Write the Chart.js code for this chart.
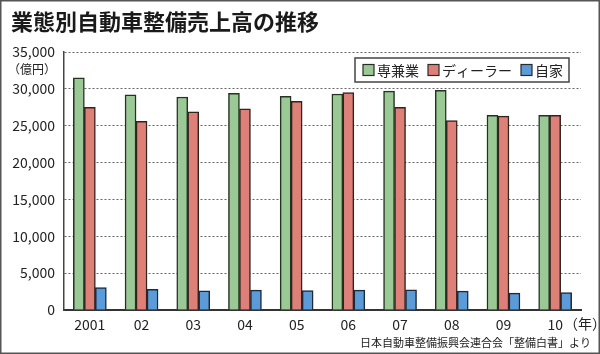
<!DOCTYPE html>
<html>
<head>
<meta charset="utf-8">
<script src="https://cdn.jsdelivr.net/npm/chart.js@4/dist/chart.umd.min.js"></script>
<style>
  html, body { margin: 0; padding: 0; background: #fff; }
  canvas { display: block; }
</style>
</head>
<body>
<canvas id="myChart" width="600" height="354"></canvas>
<script>
// data (億円)
const years = ['2001', '02', '03', '04', '05', '06', '07', '08', '09', '10'];
const senkengyo = [31500, 29200, 28900, 29400, 29000, 29300, 29700, 29800, 26400, 26400];
const dealer = [27500, 25600, 26900, 27300, 28300, 29500, 27500, 25700, 26300, 26400];
const jika = [3050, 2800, 2600, 2700, 2650, 2700, 2750, 2550, 2300, 2350];
const seriesNames = ['専兼業', 'ディーラー', '自家'];

const titleText = '業態別自動車整備売上高の推移';
const unitText = '（億円）';
const yearUnit = '（年）';
const sourceText = '日本自動車整備振興会連合会「整備白書」より';

const FONT = '"Noto Sans CJK JP", "Noto Sans", sans-serif';

// title, legend, unit labels and frame
const decor = {
    id: 'decor',
    afterDraw(chart) {
        const ctx = chart.ctx;
        const area = chart.chartArea;
        const x = chart.scales.x;
        const y = chart.scales.y;
        ctx.save();

        // outer frame
        ctx.strokeStyle = '#555';
        ctx.lineWidth = 1.5;
        ctx.strokeRect(0.75, 0.75, 598.5, 352.5);

        // title
        ctx.fillStyle = '#1a1a1a';
        ctx.font = 'bold 22px ' + FONT;
        ctx.textAlign = 'left';
        ctx.textBaseline = 'middle';
        ctx.fillText(titleText, 11, 22);

        // unit under 35,000
        ctx.fillStyle = '#222';
        ctx.font = '12px ' + FONT;
        ctx.textAlign = 'right';
        ctx.fillText(unitText, 56, y.getPixelForValue(35000) + 17);

        // (年) after last label
        ctx.font = '14px ' + FONT;
        ctx.textAlign = 'left';
        const lastX = x.getPixelForValue(years.length - 1);
        const lastW = ctx.measureText(years[years.length - 1]).width;
        ctx.fillText(yearUnit, lastX + lastW / 2 + 1, 324);

        // source
        ctx.font = '11px ' + FONT;
        ctx.textAlign = 'right';
        ctx.fillText(sourceText, 591, 343);

        // legend box
        ctx.font = '14px ' + FONT;
        const sw = 11, gap = 3, itemGap = 9, padL = 8, padR = 6;
        let total = padL + padR;
        chart.data.datasets.forEach((ds, i) => {
            total += sw + gap + ctx.measureText(ds.label).width;
            if (i < chart.data.datasets.length - 1) total += itemGap;
        });
        const boxRight = area.right - 12;
        const boxLeft = boxRight - total;
        const boxTop = 58, boxBottom = 82;
        ctx.fillStyle = '#fff';
        ctx.fillRect(boxLeft, boxTop, total, boxBottom - boxTop);
        ctx.strokeStyle = '#444';
        ctx.lineWidth = 1.5;
        ctx.strokeRect(boxLeft, boxTop, total, boxBottom - boxTop);
        let cx = boxLeft + padL;
        const cy = (boxTop + boxBottom) / 2;
        chart.data.datasets.forEach(ds => {
            ctx.fillStyle = ds.backgroundColor;
            ctx.fillRect(cx, cy - sw / 2, sw, sw);
            ctx.strokeStyle = '#2a2a2a';
            ctx.lineWidth = 1.2;
            ctx.strokeRect(cx, cy - sw / 2, sw, sw);
            cx += sw + gap;
            ctx.fillStyle = '#222';
            ctx.textAlign = 'left';
            ctx.textBaseline = 'middle';
            ctx.fillText(ds.label, cx, cy + 1);
            cx += ctx.measureText(ds.label).width + itemGap;
        });

        ctx.restore();
    }
};

const ctx = document.getElementById('myChart').getContext('2d');
const myChart = new Chart(ctx, {
    type: 'bar',
    data: {
        labels: years,
        datasets: [
            { label: seriesNames[0], data: senkengyo, backgroundColor: '#9bc995', borderColor: '#243224' },
            { label: seriesNames[1], data: dealer, backgroundColor: '#dc8078', borderColor: '#33231f' },
            { label: seriesNames[2], data: jika, backgroundColor: '#5b9bd8', borderColor: '#1d2a3a' }
        ]
    },
    options: {
        responsive: false,
        animation: false,
        devicePixelRatio: 1,
        layout: { padding: { top: 52, right: 19, left: 0, bottom: 0 } },
        datasets: {
            bar: { barThickness: 11, borderWidth: 1.5, borderSkipped: 'bottom' }
        },
        plugins: {
            legend: { display: false },
            title: { display: false },
            tooltip: { enabled: false }
        },
        scales: {
            x: {
                grid: { display: false, drawTicks: false },
                border: { display: true, color: '#333', width: 2 },
                ticks: { color: '#222', font: { family: FONT, size: 14 }, padding: 6, maxRotation: 0 },
                afterFit(scale) { scale.height = 44; }
            },
            y: {
                min: 0,
                max: 35000,
                grid: {
                    drawTicks: false,
                    lineWidth: 1,
                    color: c => (c.tick && c.tick.value === 0) ? 'rgba(0,0,0,0)' : '#666'
                },
                border: { display: true, color: '#444', width: 1.5, dash: [2, 2] },
                ticks: {
                    stepSize: 5000,
                    color: '#222',
                    padding: 9,
                    font: { family: FONT, size: 14 },
                    callback: v => v.toLocaleString('en-US')
                },
                afterFit(scale) { scale.width = 64; }
            }
        }
    },
    plugins: [decor]
});
</script>
</body>
</html>
